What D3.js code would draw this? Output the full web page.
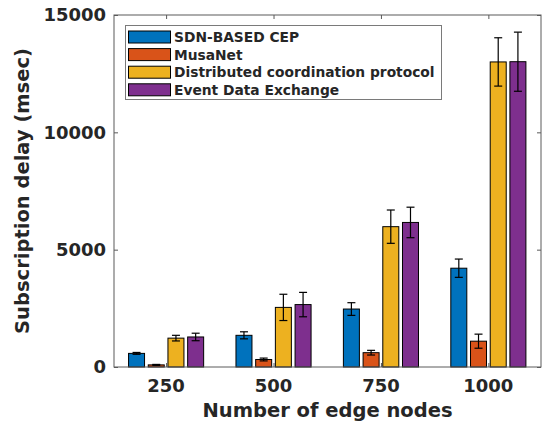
<!DOCTYPE html>
<html lang="en">
<head>
<meta charset="UTF-8">
<title>Subscription delay</title>
<script src="https://d3js.org/d3.v7.min.js"></script>
<style>
    body { margin: 0; background: #fff; }
    text { font-family: "DejaVu Sans", sans-serif; font-weight: bold; fill: #262626; }
</style>
</head>
<body>
<div id="chart"></div>
<script>
    // data
    var categories = ["250", "500", "750", "1000"];
    var seriesNames = ["SDN-BASED CEP", "MusaNet", "Distributed coordination protocol", "Event Data Exchange"];
    var seriesColors = ["#0072BD", "#D95319", "#EDB120", "#7E2F8E"];
    var sdnCep = [580, 1350, 2470, 4210];
    var sdnCepErr = [40, 150, 270, 390];
    var musaNet = [90, 320, 610, 1100];
    var musaNetErr = [20, 60, 100, 300];
    var distCoord = [1230, 2540, 5980, 13000];
    var distCoordErr = [120, 560, 710, 1030];
    var eventExchange = [1280, 2660, 6160, 13010];
    var eventExchangeErr = [160, 520, 650, 1260];
    var yTicks = [0, 5000, 10000, 15000];

    var values = [sdnCep, musaNet, distCoord, eventExchange];
    var errors = [sdnCepErr, musaNetErr, distCoordErr, eventExchangeErr];

    var width = 545, height = 424;
    // plot box (note: "top" is reserved on window, so use pl/pr/pt/pb)
    var pl = 114, pr = 541, pt = 15, pb = 367;

    var svg = d3.select("#chart").append("svg")
        .attr("width", width)
        .attr("height", height);

    var x = d3.scaleLinear().domain([0.515, 4.49]).range([pl, pr]);
    var y = d3.scaleLinear().domain([0, 15000]).range([pb, pt]);
    var inner = d3.scaleBand().domain(d3.range(seriesNames.length))
        .range([-37.55, 37.55]).paddingInner(0.188);

    // bars + error bars
    values.forEach(function (vals, s) {
        var g = svg.append("g");
        g.selectAll("rect")
            .data(vals)
            .enter().append("rect")
            .attr("x", (d, i) => x(i + 1) + inner(s))
            .attr("y", d => y(d))
            .attr("width", inner.bandwidth())
            .attr("height", d => y(0) - y(d))
            .attr("fill", seriesColors[s])
            .attr("stroke", "#000")
            .attr("stroke-width", 1);

        var cx = i => x(i + 1) + inner(s) + inner.bandwidth() / 2;
        var eb = g.selectAll("g.err")
            .data(vals.map((v, i) => ({ v: v, e: errors[s][i], i: i })))
            .enter().append("g")
            .attr("stroke", "#000")
            .attr("stroke-width", 1.2);
        eb.append("line")
            .attr("x1", d => cx(d.i)).attr("x2", d => cx(d.i))
            .attr("y1", d => y(d.v - d.e)).attr("y2", d => y(d.v + d.e));
        eb.append("line")
            .attr("x1", d => cx(d.i) - 4).attr("x2", d => cx(d.i) + 4)
            .attr("y1", d => y(d.v + d.e)).attr("y2", d => y(d.v + d.e));
        eb.append("line")
            .attr("x1", d => cx(d.i) - 4).attr("x2", d => cx(d.i) + 4)
            .attr("y1", d => y(d.v - d.e)).attr("y2", d => y(d.v - d.e));
    });

    // axes box with inward ticks
    var axisColor = "#5a5a5a";
    svg.append("rect")
        .attr("x", pl).attr("y", pt)
        .attr("width", pr - pl).attr("height", pb - pt)
        .attr("fill", "none").attr("stroke", axisColor).attr("stroke-width", 1);

    var yAxisL = d3.axisLeft(y).tickValues(yTicks).tickSizeInner(-4).tickSizeOuter(0).tickFormat("");
    var yAxisR = d3.axisRight(y).tickValues(yTicks).tickSizeInner(-4).tickSizeOuter(0).tickFormat("");
    var xAxisB = d3.axisBottom(x).tickValues([1, 2, 3, 4]).tickSizeInner(-4).tickSizeOuter(0).tickFormat("");
    var xAxisT = d3.axisTop(x).tickValues([1, 2, 3, 4]).tickSizeInner(-4).tickSizeOuter(0).tickFormat("");
    [[yAxisL, "translate(" + pl + ",0)"], [yAxisR, "translate(" + pr + ",0)"],
     [xAxisB, "translate(0," + pb + ")"], [xAxisT, "translate(0," + pt + ")"]].forEach(function (a) {
        var g = svg.append("g").attr("transform", a[1]).call(a[0]);
        g.select(".domain").remove();
        g.selectAll("line").attr("stroke", axisColor);
    });

    // tick labels
    svg.selectAll("text.ylab")
        .data(yTicks).enter().append("text")
        .attr("x", pl - 8)
        .attr("y", d => y(d))
        .attr("dy", "0.36em")
        .attr("text-anchor", "end")
        .style("font-size", "18px")
        .text(d => d);

    svg.selectAll("text.xlab")
        .data(categories).enter().append("text")
        .attr("x", (d, i) => x(i + 1))
        .attr("y", 392)
        .attr("text-anchor", "middle")
        .style("font-size", "18px")
        .text(d => d);

    // axis titles
    svg.append("text")
        .attr("x", (pl + pr) / 2)
        .attr("y", 417)
        .attr("text-anchor", "middle")
        .style("font-size", "19.5px")
        .text("Number of edge nodes");

    svg.append("text")
        .attr("transform", "translate(29," + (pt + pb) / 2 + ") rotate(-90)")
        .attr("text-anchor", "middle")
        .style("font-size", "19.5px")
        .text("Subscription delay (msec)");

    // legend
    var legend = svg.append("g");
    legend.append("rect")
        .attr("x", 125.5).attr("y", 25.5)
        .attr("width", 316).attr("height", 74)
        .attr("fill", "#fff").attr("stroke", "#7a7a7a").attr("stroke-width", 1);
    var rows = legend.selectAll("g.row")
        .data(seriesNames).enter().append("g")
        .attr("transform", (d, i) => "translate(0," + (37 + i * 17.6) + ")");
    rows.append("rect")
        .attr("x", 128.5).attr("y", -6)
        .attr("width", 42).attr("height", 12)
        .attr("fill", (d, i) => seriesColors[i])
        .attr("stroke", "#000").attr("stroke-width", 1);
    rows.append("text")
        .attr("x", 174)
        .attr("dy", "0.36em")
        .style("font-size", "13.8px")
        .text(d => d);
</script>
</body>
</html>
